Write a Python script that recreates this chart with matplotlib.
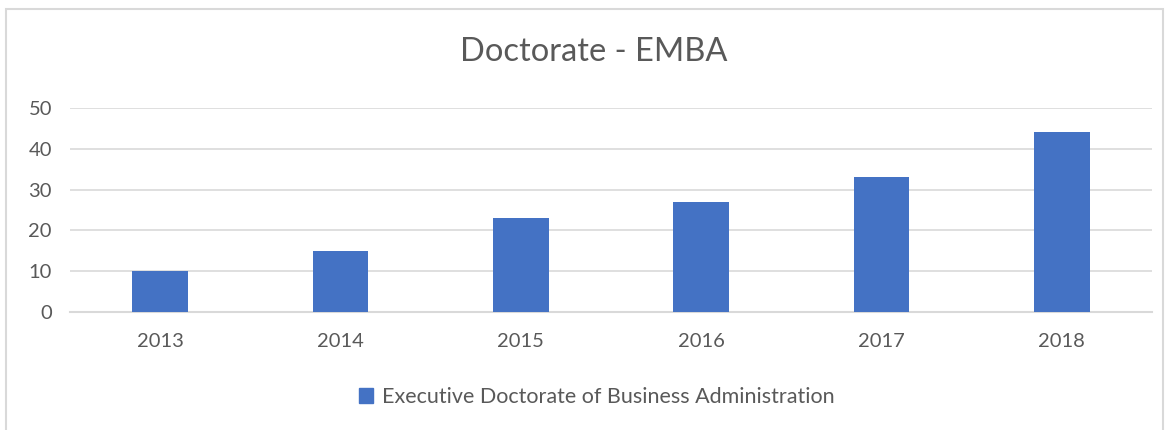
import matplotlib
matplotlib.use("Agg")
from matplotlib import pyplot as plt
from matplotlib.patches import Rectangle, Patch

years = ["2013", "2014", "2015", "2016", "2017", "2018"]
values = [10, 15, 23, 27, 33, 44]
series_name = "Executive Doctorate of Business Administration"

plt.rcParams['font.family'] = ['Lato', 'DejaVu Sans']
txt = "#595959"
grid = "#d9d9d9"

W, H = 1172, 430
fig = plt.figure(figsize=(W / 100, H / 100), dpi=100)

# chart area border (left and top visible)
fig.patches.append(Rectangle((6 / W, -0.1), (1163 - 6) / W, 1 - 9 / H + 0.1,
                             transform=fig.transFigure, fill=False,
                             edgecolor=grid, lw=1.5))

ax = fig.add_axes([70 / W, 1 - 312 / H, (1152 - 70) / W, (312 - 108) / H])
x = range(len(years))
ax.bar(x, values, width=0.31, color="#4472c4", zorder=3)
ax.set_xlim(-0.5, len(years) - 0.5)
ax.set_ylim(0, 50)
ax.set_yticks(range(0, 51, 10))
ax.set_xticks(list(x))
ax.set_xticklabels(years)
ax.yaxis.grid(True, color=grid, lw=1.2, zorder=0)
for s in ["top", "right", "left"]:
    ax.spines[s].set_visible(False)
ax.spines["bottom"].set_color(grid)
ax.spines["bottom"].set_linewidth(1.5)
ax.tick_params(axis="both", length=0, colors=txt, labelsize=14.5)
ax.tick_params(axis="x", pad=15)
ax.tick_params(axis="y", pad=13)

fig.text(594 / W, 1 - 52 / H, "Doctorate - EMBA", ha="center", va="center",
         fontsize=23.5, color=txt)

fig.legend(handles=[Patch(color="#4472c4", label=series_name)],
           loc="center", bbox_to_anchor=(597 / W, 1 - 397 / H), frameon=False,
           fontsize=15.5, labelcolor=txt, handlelength=0.65, handleheight=0.65,
           handletextpad=0.4)

fig.savefig("out.png", dpi=100)
